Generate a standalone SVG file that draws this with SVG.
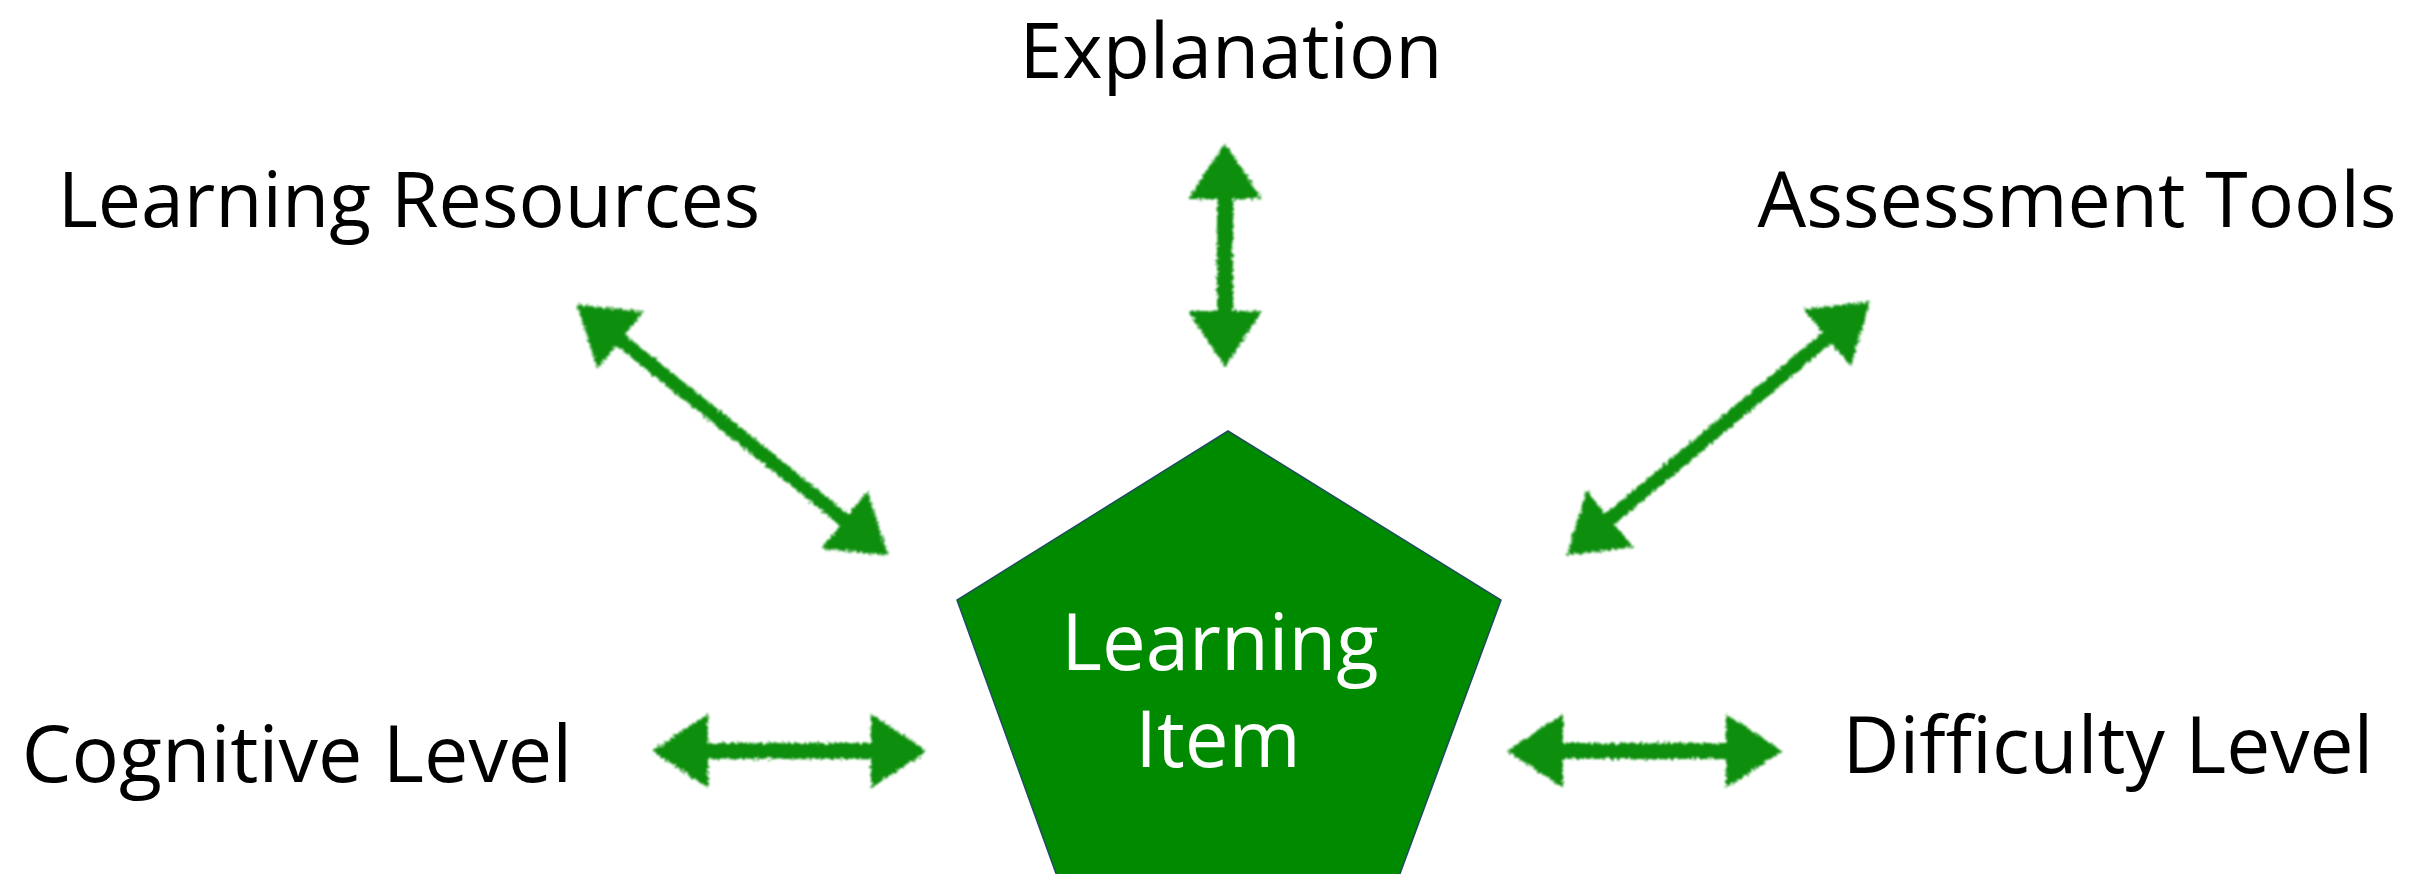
<svg xmlns="http://www.w3.org/2000/svg" width="2431" height="874" viewBox="0 0 2431 874">
  <style>
    .lbl { font-family: "Open Sans", "Noto Sans", "DejaVu Sans", sans-serif; font-size: 77px; fill: #000000; text-anchor: middle; }
    .inner { font-family: "Open Sans", "Noto Sans", "DejaVu Sans", sans-serif; font-size: 78px; fill: #ffffff; text-anchor: middle; }
    .arrow { fill: #0e8f0e; }
  </style>
  <defs>
    <filter id="chalk" x="-15%" y="-30%" width="130%" height="160%">
      <feTurbulence type="fractalNoise" baseFrequency="0.35" numOctaves="2" seed="4" result="n"/>
      <feDisplacementMap in="SourceGraphic" in2="n" scale="7" xChannelSelector="R" yChannelSelector="G" result="d"/>
      <feGaussianBlur in="d" stdDeviation="0.8"/>
    </filter>
  </defs>
  <rect width="2431" height="874" fill="#ffffff"/>

  <g id="connectors" filter="url(#chalk)">
    <polygon class="arrow" transform="translate(1225,143) rotate(90)" points="0,0 56,-37 56,-8 168,-8 168,-37 224,0 168,37 168,8 56,8 56,37"/>
    <polygon class="arrow" transform="translate(577,305) rotate(38.8)" points="0,0 56,-37 56,-7 343,-7 343,-37 399,0 343,37 343,7 56,7 56,37"/>
    <polygon class="arrow" transform="translate(1567,555) rotate(-39.9)" points="0,0 56,-37 56,-7 339,-7 339,-37 395,0 339,37 339,7 56,7 56,37"/>
    <polygon class="arrow" transform="translate(652,751)" points="0,0 56,-37 56,-8 219,-8 219,-37 275,0 219,37 219,8 56,8 56,37"/>
    <polygon class="arrow" transform="translate(1507,751)" points="0,0 56,-37 56,-8 219,-8 219,-37 275,0 219,37 219,8 56,8 56,37"/>
  </g>

  <g id="learning-item">
    <polygon points="1228,431 1501,600 1394,890 1062,890 957,600" fill="#008a00" stroke="#1f4e5f" stroke-width="1.5"/>
    <text class="inner" x="1220" y="670">Learning</text>
    <text class="inner" x="1218" y="767">Item</text>
  </g>

  <g id="explanation">
    <text class="lbl" x="1231" y="78">Explanation</text>
  </g>
  <g id="learning-resources">
    <text class="lbl" x="409" y="227">Learning Resources</text>
  </g>
  <g id="assessment-tools">
    <text class="lbl" x="2077" y="227">Assessment Tools</text>
  </g>
  <g id="cognitive-level">
    <text class="lbl" x="297" y="782" style="font-size:79px">Cognitive Level</text>
  </g>
  <g id="difficulty-level">
    <text class="lbl" x="2108" y="773" style="font-size:78.5px">Difficulty Level</text>
  </g>
</svg>
